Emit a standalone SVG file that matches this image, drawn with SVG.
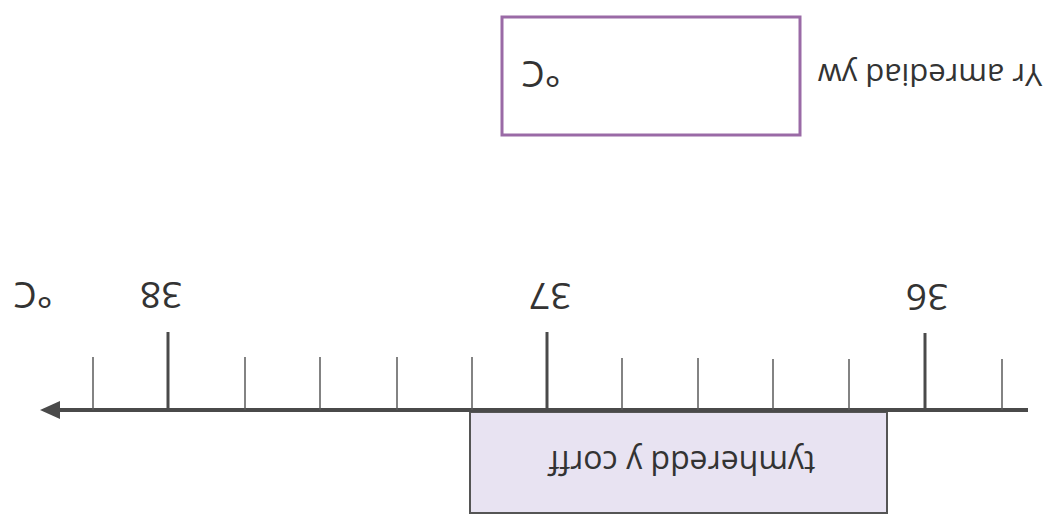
<svg xmlns="http://www.w3.org/2000/svg" width="1056" height="528" viewBox="0 0 1056 528">
<style>
.t{font-family:"Open Sans","Liberation Sans",sans-serif;fill:#333333;text-anchor:middle}
.num{font-size:37px}
.lbl{font-size:31px}
.maj{stroke:#4a4a4a;stroke-width:3}
.min{stroke:#5a5a5a;stroke-width:1.5}
</style>
<defs>
<marker id="ah" markerWidth="6" markerHeight="5" refX="3" refY="2.25" orient="auto" markerUnits="strokeWidth">
<path d="M0,0 L5,2.25 L0,4.5 Z" fill="#4a4a4a"/>
</marker>
</defs>
<rect width="1056" height="528" fill="#ffffff"/>
<g id="answer-box">
<rect x="502" y="17" width="298" height="118" fill="#ffffff" stroke="#9a6aa6" stroke-width="3"/>
<text class="t num" transform="translate(541,61) rotate(180)" font-size="33">°C</text>
</g>
<g id="range-label">
<text class="t lbl" transform="translate(930,64) rotate(180)">Yr amrediad yw</text>
</g>
<g id="body-temp">
<rect x="470" y="412" width="417" height="101" fill="#e8e3f2" stroke="#555555" stroke-width="2"/>
<text class="t" transform="translate(682,451) rotate(180)" font-size="32">tymheredd y corff</text>
</g>
<g id="axis">
<line x1="1028" y1="410" x2="48" y2="410" stroke="#4a4a4a" stroke-width="4" marker-end="url(#ah)"/>
<line class="maj" x1="168" y1="332" x2="168" y2="410"/>
<line class="maj" x1="547" y1="332" x2="547" y2="410"/>
<line class="maj" x1="925" y1="333" x2="925" y2="410"/>
<line class="min" x1="93" y1="357" x2="93" y2="410"/>
<line class="min" x1="245" y1="357" x2="245" y2="410"/>
<line class="min" x1="320" y1="357" x2="320" y2="410"/>
<line class="min" x1="397" y1="357" x2="397" y2="410"/>
<line class="min" x1="472" y1="357" x2="472" y2="410"/>
<line class="min" x1="622" y1="358" x2="622" y2="410"/>
<line class="min" x1="698" y1="358" x2="698" y2="410"/>
<line class="min" x1="773" y1="359" x2="773" y2="410"/>
<line class="min" x1="849" y1="359" x2="849" y2="410"/>
<line class="min" x1="1002" y1="359" x2="1002" y2="410"/>
</g>
<g id="axis-labels">
<text class="t num" transform="translate(161,282) rotate(180)">38</text>
<text class="t num" transform="translate(550,283) rotate(180)">37</text>
<text class="t num" transform="translate(927,284) rotate(180)">36</text>
<text class="t num" transform="translate(33,282) rotate(180)" font-size="33">°C</text>
</g>
</svg>
